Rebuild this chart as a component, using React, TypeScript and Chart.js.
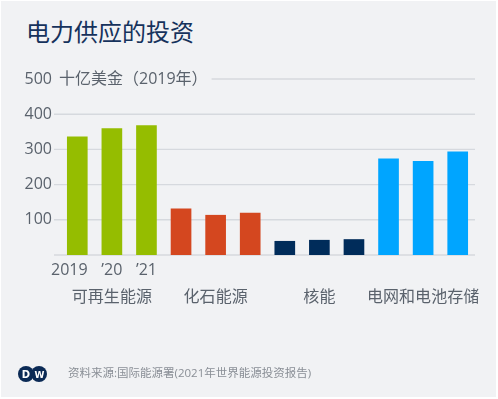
import React, { useEffect, useRef } from 'react';
import { Chart, registerables } from 'chart.js';

Chart.register(...registerables);

const title = '电力供应的投资';
const unitLabel = '十亿美金（2019年）';
const source = '资料来源:国际能源署(2021年世界能源投资报告)';
const years = ['2019', '’20', '’21'];
const groups = ['可再生能源', '化石能源', '核能', '电网和电池存储'];
const renewables = [336, 359, 368];
const fossil = [131, 113, 119];
const nuclear = [39, 42, 44];
const gridsStorage = [273, 266, 293];
const groupColors = ['#95bd00', '#d4471f', '#002c5a', '#00a5ff'];
const yTicks = [100, 200, 300, 400, 500];

const FONT = "'Open Sans', 'Noto Sans CJK SC', sans-serif";
const TEXT_COLOR = '#5a626c';

export default function App() {
  const ref = useRef<HTMLCanvasElement | null>(null);

  useEffect(() => {
    const canvas = ref.current;
    if (!canvas) return;
    const series = [renewables, fossil, nuclear, gridsStorage];
    const labels: string[][] = [];
    const data: number[] = [];
    const colors: string[] = [];
    groups.forEach((g, gi) => {
      years.forEach((y, yi) => {
        // the first year label sits slightly left of its bar; a trailing em space shifts it
        const yearText = gi === 0 ? (yi === 0 ? y + '\u2003' : y) : '';
        labels.push([yearText, yi === 1 ? g : '']);
        data.push(series[gi][yi]);
        colors.push(groupColors[gi]);
      });
    });

    const gridPlugin = {
      id: 'customGrid',
      beforeDatasetsDraw(chart: any) {
        const { ctx, chartArea, scales } = chart;
        const y = scales.y;
        ctx.save();
        ctx.font = `16px ${FONT}`;
        const unitX = chartArea.left - 1;
        const unitW = ctx.measureText(unitLabel).width;
        ctx.strokeStyle = '#d6d9de';
        ctx.lineWidth = 1.4;
        [0, ...yTicks].forEach((v) => {
          const py = y.getPixelForValue(v);
          const x0 = v === yTicks[yTicks.length - 1] ? unitX + unitW + 4 : chartArea.left - 6;
          ctx.beginPath();
          ctx.moveTo(x0, py);
          ctx.lineTo(chartArea.right, py);
          ctx.stroke();
        });
        ctx.fillStyle = TEXT_COLOR;
        ctx.textBaseline = 'middle';
        ctx.textAlign = 'left';
        ctx.fillText(unitLabel, unitX, y.getPixelForValue(yTicks[yTicks.length - 1]));
        ctx.restore();
      },
    };

    const chart = new Chart(canvas, {
      type: 'bar',
      data: {
        labels,
        datasets: [
          {
            data,
            backgroundColor: colors,
            barThickness: 20,
          },
        ],
      },
      options: {
        animation: false,
        responsive: false,
        maintainAspectRatio: false,
        layout: { padding: { top: 79, right: 23, left: 0, bottom: 0 } },
        plugins: { legend: { display: false }, tooltip: { enabled: false } },
        scales: {
          x: {
            grid: { display: false, drawTicks: false },
            border: { display: false },
            afterFit: (s: any) => {
              s.height = 144;
            },
            ticks: {
              autoSkip: false,
              maxRotation: 0,
              padding: 1.5,
              color: TEXT_COLOR,
              font: { family: FONT, size: 16, lineHeight: 1.6875 },
            },
          },
          y: {
            min: 0,
            max: 500,
            grid: { display: false, drawTicks: false },
            border: { display: false },
            afterFit: (s: any) => {
              s.width = 60;
            },
            afterBuildTicks: (s: any) => {
              s.ticks = yTicks.map((v) => ({ value: v }));
            },
            ticks: {
              padding: 8,
              color: TEXT_COLOR,
              font: { family: FONT, size: 16 },
              callback: (v: any) => String(v),
            },
          },
        },
      },
      plugins: [gridPlugin],
    });
    return () => chart.destroy();
  }, []);

  return (
    <div style={{ position: 'fixed', left: 0, top: 0, width: 498, height: 399, background: '#ffffff', overflow: 'hidden' }}>
      <div style={{ position: 'absolute', left: 1, top: 1, width: 495, height: 396, background: '#f1f2f4' }} />
      <div
        style={{
          position: 'absolute',
          left: 26,
          top: 17,
          fontFamily: FONT,
          fontSize: 24,
          lineHeight: '30px',
          color: '#16325c',
          whiteSpace: 'nowrap',
        }}
      >
        {title}
      </div>
      <canvas ref={ref} width={498} height={399} style={{ position: 'absolute', left: 0, top: 0, width: 498, height: 399 }} />
      <svg style={{ position: 'absolute', left: 0, top: 0 }} width={60} height={399}>
        <circle cx={26} cy={374} r={8} fill="#0b2a55" />
        <circle cx={39} cy={374} r={8} fill="#0b2a55" />
        <text x={26} y={377.5} fontFamily="'DejaVu Sans', sans-serif" fontWeight="bold" fontSize={10} fill="#fff" textAnchor="middle">D</text>
        <text x={39.5} y={377.5} fontFamily="'DejaVu Sans', sans-serif" fontWeight="bold" fontSize={9} fill="#fff" textAnchor="middle">W</text>
      </svg>
      <div
        style={{
          position: 'absolute',
          left: 68,
          top: 365,
          fontFamily: FONT,
          fontSize: 11.5,
          lineHeight: '16px',
          color: '#8a8f96',
          whiteSpace: 'nowrap',
        }}
      >
        {source}
      </div>
    </div>
  );
}
